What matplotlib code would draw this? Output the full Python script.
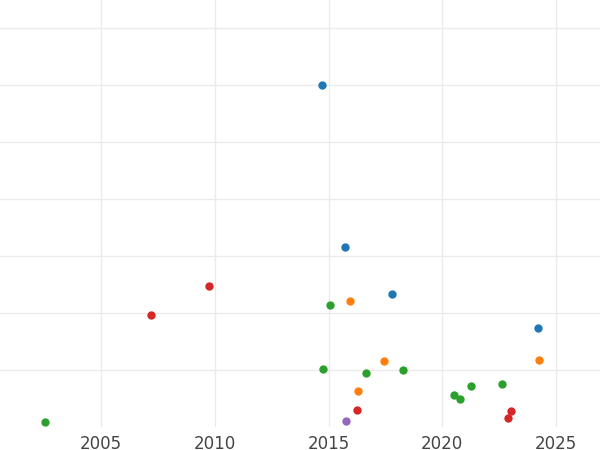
import matplotlib
matplotlib.use("Agg")
from matplotlib import pyplot as plt

# year, value per group
blue_x = [2014.71, 2015.72, 2017.79, 2024.21]
blue_y = [6.0, 3.16, 2.33, 1.74]
red_x = [2007.20, 2009.75, 2016.25, 2022.89, 2023.02]
red_y = [1.96, 2.47, 0.30, 0.16, 0.28]
green_x = [2002.54, 2015.07, 2014.76, 2016.65, 2018.27, 2020.52, 2020.78, 2021.26, 2022.63]
green_y = [0.09, 2.14, 1.02, 0.95, 1.00, 0.56, 0.49, 0.72, 0.75]
orange_x = [2015.95, 2017.44, 2016.30, 2024.25]
orange_y = [2.21, 1.16, 0.63, 1.18]
purple_x = [2015.77]
purple_y = [0.11]

fig = plt.figure(figsize=(6, 4.5), dpi=100)
ax = fig.add_axes([0, 0.051, 1, 0.949])

groups = [(blue_x, blue_y, '#1f77b4'), (red_x, red_y, '#d62728'),
          (green_x, green_y, '#2ca02c'), (orange_x, orange_y, '#ff7f0e'),
          (purple_x, purple_y, '#9467bd')]
for xs, ys, c in groups:
    ax.scatter(xs, ys, s=36, color=c, zorder=3, linewidths=0)

ax.set_xlim(2000.56, 2026.93)
ax.set_ylim(0, 7.49)
ax.set_xticks([2005, 2010, 2015, 2020, 2025])
ax.set_yticks(range(1, 8))
ax.set_yticklabels([])
ax.tick_params(axis='both', length=0, labelsize=12, labelcolor='#444444')
ax.tick_params(axis='x', pad=6)
ax.grid(color='#ebebeb', linewidth=1)
ax.set_axisbelow(True)
for s in ax.spines.values():
    s.set_visible(False)

fig.savefig("out.png")
